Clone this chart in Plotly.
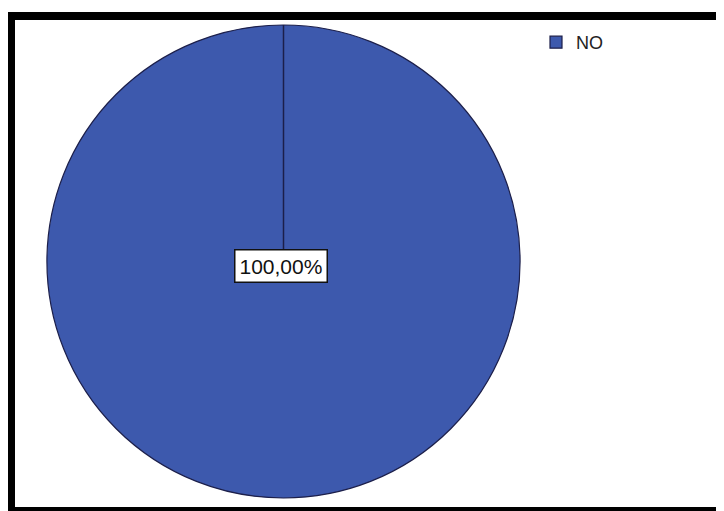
import plotly.graph_objects as go

categories = ["NO"]
values = [100.0]
slice_color = "#3D59AD"
edge_color = "#1C1F4A"

W, H = 724, 511
OFF = 8  # page body margin offset (window px -> figure px)
total = sum(values)
pct_labels = [f"{v / total * 100:.2f}%".replace(".", ",") for v in values]


def px(xw):
    return (xw - OFF) / W


def py(yw):
    return 1 - (yw - OFF) / H


# pie geometry in window pixels
cx, cy, r = 283.5, 261.5, 236.5
dom_x = [px(cx - r), px(cx + r)]
dom_y = [py(cy + r), py(cy - r)]

fig = go.Figure(go.Pie(
    labels=categories,
    values=values,
    marker=dict(colors=[slice_color], line=dict(color=edge_color, width=1.2)),
    textinfo="none",
    hoverinfo="label+percent",
    sort=False,
    direction="clockwise",
    rotation=0,
    domain=dict(x=dom_x, y=dom_y),
    showlegend=True,
))

shapes = []
# radial slice boundary at 12 o'clock
shapes.append(dict(type="line", xref="paper", yref="paper",
                   x0=px(cx), x1=px(cx), y0=py(cy), y1=dom_y[1],
                   line=dict(color=edge_color, width=1.5)))
# image frame (black border)
blk = dict(type="rect", xref="paper", yref="paper", fillcolor="black",
           line=dict(width=0), layer="above")
shapes.append(dict(blk, x0=px(7), x1=1, y0=py(20), y1=py(12)))
shapes.append(dict(blk, x0=0, x1=px(15), y0=py(511), y1=py(12)))
shapes.append(dict(blk, x0=0, x1=1, y0=py(511), y1=py(507)))

annotations = [dict(
    text=pct_labels[0], xref="paper", yref="paper",
    x=px(281), y=py(265.5), xanchor="center", yanchor="middle",
    showarrow=False, font=dict(family="Liberation Sans, Arial", size=21, color="#111"),
    bgcolor="white", bordercolor="#111", borderwidth=1.5, borderpad=4,
)]

fig.update_layout(
    width=W, height=H,
    margin=dict(l=0, r=0, t=0, b=0),
    paper_bgcolor="white", plot_bgcolor="white",
    shapes=shapes, annotations=annotations,
    legend=dict(x=px(536), y=py(24), xanchor="left", yanchor="top",
                font=dict(family="Liberation Sans, Arial", size=18, color="#222"),
                bgcolor="rgba(0,0,0,0)", itemwidth=30, tracegroupgap=0),
)

fig.write_html("out.html")
